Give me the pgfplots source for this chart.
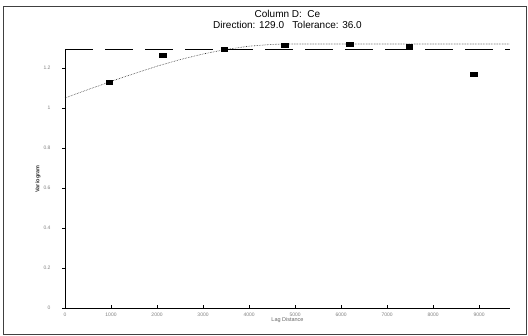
\documentclass[border=0pt]{standalone}
\usepackage{pgfplots}
\pgfplotsset{compat=1.18}
\usepackage{fontspec}
\setmainfont{Liberation Sans}
\begin{document}
\begin{tikzpicture}[x=1pt,y=1pt]
\useasboundingbox (0,0) rectangle (528,336);
\draw[black!75, line width=0.8pt] (3,2) rectangle (526,330);
\begin{axis}[
  at={(65pt,28pt)}, anchor=south west,
  scale only axis, width=445pt, height=258pt,
  xmin=0, xmax=9.67, ymin=0, ymax=1.29,
  clip=false,
  axis x line=bottom, axis y line=left,
  axis line style={-, black, line width=0.8pt},
  xtick={0,1,...,9},
  xticklabels={0,1000,2000,3000,4000,5000,6000,7000,8000,9000},
  ytick={0,0.2,0.4,0.6,0.8,1,1.2},
  yticklabels={0,0.2,0.4,0.6,0.8,1,1.2},
  tick label style={font=\fontsize{5}{6}\selectfont, text=black!50},
  yticklabel style={xshift=-8pt},
  xticklabel style={yshift=-1pt},
  xtick align=inside, ytick align=outside,
  major tick length=3pt,
  tick style={black, line width=0.6pt},
  xlabel={Lag Distance},
  ylabel={Variogram},
  xlabel style={font=\fontsize{5.5}{6}\selectfont, text=black!60, yshift=5pt},
  ylabel style={font=\bfseries\fontsize{5.5}{6}\selectfont, text=black!80, yshift=-4pt},
  title={Column D:\ \ Ce\\Direction: 129.0\ \ \ Tolerance: 36.0},
  title style={align=center, font=\fontsize{10}{10.5}\selectfont, at={(axis description cs:0.5,1)}, anchor=south, yshift=12pt},
]
% sill (dashed)
\addplot[black, line width=0.7pt, dash pattern=on 28pt off 12pt] coordinates {(0,1.295) (9.67,1.295)};
% model curve
\addplot[black!80, line width=0.6pt, densely dotted] coordinates {
(0,1.05) (0.5,1.092) (1,1.133) (1.5,1.172) (2,1.209) (2.5,1.242) (3,1.270) (3.5,1.293) (4,1.309) (4.5,1.318) (4.8,1.32) (9.67,1.32)};
% experimental variogram
\addplot[only marks, mark=square*, mark size=2.2pt, mark options={xscale=1.5, yscale=0.95, fill=black, draw=black}] coordinates {
(0.96,1.13) (2.12,1.265) (3.46,1.293) (4.77,1.315) (6.18,1.317) (7.48,1.307) (8.88,1.17)};
\end{axis}
\end{tikzpicture}
\end{document}
